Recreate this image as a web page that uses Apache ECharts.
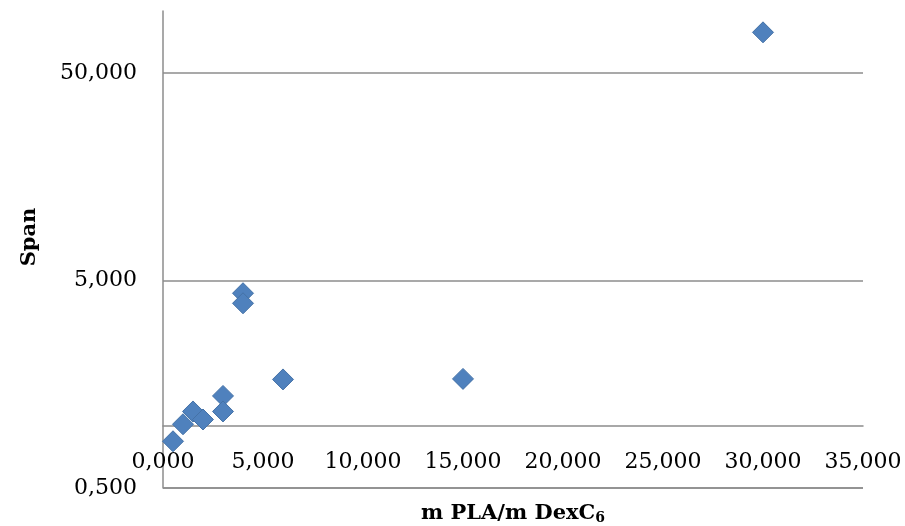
<!DOCTYPE html>
<html>
<head>
<meta charset="utf-8">
<script src="https://cdn.jsdelivr.net/npm/echarts@6/dist/echarts.min.js"></script>
<style>
  html, body { margin: 0; padding: 0; background: #ffffff; }
  #chart { width: 905px; height: 526px; }
</style>
</head>
<body>
<div id="chart"></div>
<script>
// m PLA / m DexC6 ratio (x) and Span (y, log scale)
const xValues = [0.5, 1, 1.5, 2, 3, 3, 4, 4, 6, 15, 30];
const spanValues = [0.84, 1.015, 1.17, 1.07, 1.39, 1.17, 4.35, 3.89, 1.67, 1.68, 78.9];
const yMin = 0.5;   // log axis minimum
const yMax = 100;   // log axis maximum
const yCross = 1;   // horizontal axis crosses the vertical axis at this value
const xMin = 0, xMax = 35, xStep = 5;

function fmt(v) { return v.toFixed(3).replace('.', ','); }
const logMin = Math.log10(yMin);
const logMax = Math.log10(yMax);

const points = xValues.map((x, i) => [x, Math.log10(spanValues[i])]);

const gridTop = 11, gridBottom = 38, H = 526;
const plotH = H - gridTop - gridBottom;
// offset of horizontal axis so that it crosses at yCross
const crossOffset = -plotH * (Math.log10(yCross) - logMin) / (logMax - logMin);

const chart = echarts.init(document.getElementById('chart'), null, { renderer: 'canvas' });
const serif = 'DejaVu Serif';
const gray = '#8c8c8c';

chart.setOption({
  backgroundColor: '#ffffff',
  animation: false,
  grid: { left: 163, right: 42, top: gridTop, bottom: gridBottom, containLabel: false, outerBoundsMode: 'none' },
  xAxis: {
    type: 'value',
    min: xMin, max: xMax, interval: xStep,
    offset: crossOffset,
    axisLine: { show: true, onZero: false, lineStyle: { color: gray, width: 1.5 } },
    axisTick: { show: false },
    splitLine: { show: false },
    axisLabel: {
      margin: 26, color: '#000', fontFamily: serif, fontSize: 22,
      formatter: v => fmt(v)
    },
    name: 'm PLA/m DexC{s|6}',
    nameLocation: 'middle',
    nameGap: 76,
    nameTextStyle: {
      color: '#000', fontFamily: serif, fontSize: 21, fontWeight: 'bold',
      rich: { s: { fontFamily: serif, fontSize: 14, fontWeight: 'bold', color: '#000', verticalAlign: 'bottom', padding: [10, 0, 0, 0] } }
    }
  },
  yAxis: {
    type: 'value',
    min: logMin, max: logMax, interval: 1,
    axisLine: { show: true, onZero: false, lineStyle: { color: gray, width: 1.5 } },
    axisTick: { show: false },
    splitLine: { show: true, showMinLine: true, showMaxLine: false, lineStyle: { color: gray, width: 1.5 } },
    axisLabel: {
      margin: 26, color: '#000', fontFamily: serif, fontSize: 22,
      showMaxLabel: false,
      formatter: v => fmt(yMin * Math.pow(10, Math.round(v - logMin)))
    }
  },
  graphic: [{
    type: 'text',
    x: 30, y: 237,
    rotation: Math.PI / 2,
    style: {
      text: 'Span', fill: '#000',
      font: 'bold 21px "DejaVu Serif"',
      textAlign: 'center', textVerticalAlign: 'middle'
    }
  }],
  series: [{
    // gridline at the log-axis minimum
    type: 'line',
    data: [[xMin, logMin], [xMax, logMin]],
    showSymbol: false,
    symbol: 'none',
    silent: true,
    clip: false,
    z: 1,
    lineStyle: { color: gray, width: 1.5 }
  }, {
    type: 'scatter',
    data: points,
    symbol: 'diamond',
    symbolSize: [21, 21],
    z: 3,
    itemStyle: { color: '#4f81bd', borderColor: '#4572a7', borderWidth: 1, opacity: 1 }
  }]
});
</script>
</body>
</html>
